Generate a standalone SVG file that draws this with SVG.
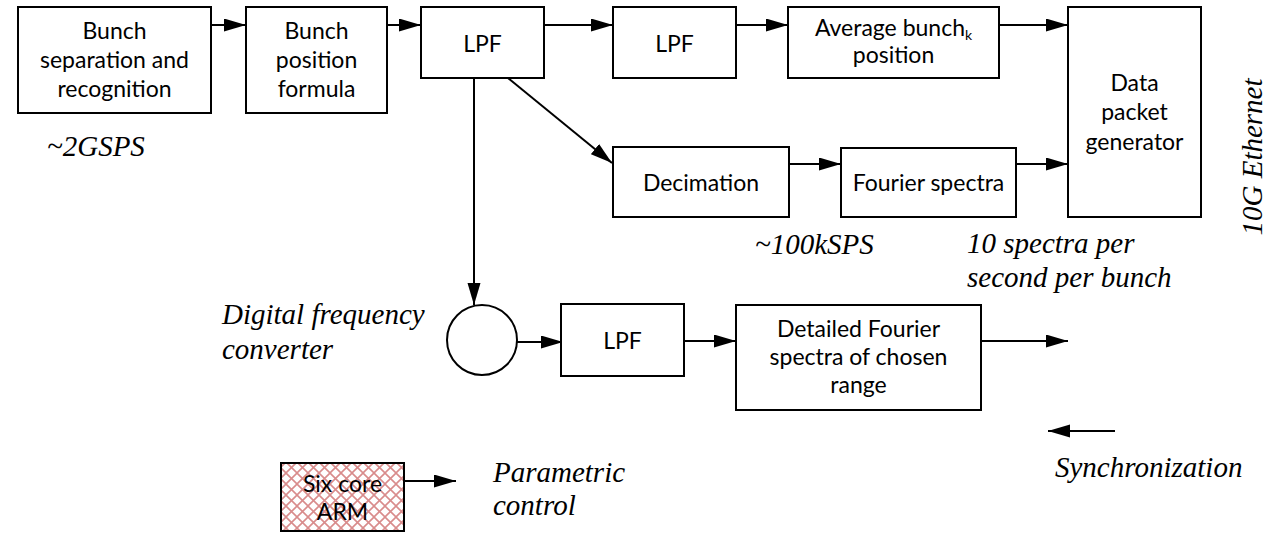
<svg xmlns="http://www.w3.org/2000/svg" width="1278" height="533" viewBox="0 0 1278 533">
<style>
.box{fill:#fff;stroke:#000;stroke-width:2}
.lbl{font-family:Lato,"Open Sans",sans-serif;font-size:23px;fill:#000;text-anchor:middle}
.it{font-style:italic;font-size:29px;fill:#000}
.cn{fill:none;stroke:#000;stroke-width:2}
</style>
<defs>
<marker id="ah" markerUnits="userSpaceOnUse" markerWidth="24" markerHeight="14" refX="22" refY="6.5" orient="auto">
<path d="M0,0 L22,6.5 L0,13 z" fill="#000"/>
</marker>
<pattern id="hatch" patternUnits="userSpaceOnUse" width="11" height="11">
<rect width="11" height="11" fill="#fff"/>
<path d="M0,0 L11,11 M11,0 L0,11" stroke="#d98c8c" stroke-width="1.6"/>
</pattern>
</defs>
<rect width="1278" height="533" fill="#fff"/>
<g id="connectors">
<line class="cn" x1="211" y1="25" x2="246" y2="25" marker-end="url(#ah)"/>
<line class="cn" x1="387" y1="25" x2="421" y2="25" marker-end="url(#ah)"/>
<line class="cn" x1="544" y1="25" x2="613" y2="25" marker-end="url(#ah)"/>
<line class="cn" x1="736" y1="25" x2="788" y2="25" marker-end="url(#ah)"/>
<line class="cn" x1="999" y1="25" x2="1068" y2="25" marker-end="url(#ah)"/>
<line class="cn" x1="508" y1="78" x2="612" y2="163" marker-end="url(#ah)"/>
<line class="cn" x1="789" y1="164" x2="841" y2="164" marker-end="url(#ah)"/>
<line class="cn" x1="1016" y1="164" x2="1068" y2="164" marker-end="url(#ah)"/>
<line class="cn" x1="474" y1="78" x2="474" y2="305" marker-end="url(#ah)"/>
<line class="cn" x1="517" y1="342" x2="563" y2="342" marker-end="url(#ah)"/>
<line class="cn" x1="684" y1="341" x2="736" y2="341" marker-end="url(#ah)"/>
<line class="cn" x1="981" y1="341" x2="1068" y2="341" marker-end="url(#ah)"/>
<line class="cn" x1="404" y1="481" x2="456" y2="481" marker-end="url(#ah)"/>
<line class="cn" x1="1115" y1="431" x2="1048" y2="431" marker-end="url(#ah)"/>
</g>
<g id="n_sep"><rect class="box" x="18" y="7" width="193" height="106"/>
<text class="lbl" x="114.5" y="39">Bunch</text><text class="lbl" x="114.5" y="68">separation and</text><text class="lbl" x="114.5" y="97">recognition</text></g>
<g id="n_pos"><rect class="box" x="246" y="7" width="141" height="106"/>
<text class="lbl" x="316.5" y="39">Bunch</text><text class="lbl" x="316.5" y="68">position</text><text class="lbl" x="316.5" y="97">formula</text></g>
<g id="n_lpf1"><rect class="box" x="421" y="7" width="123" height="71"/><text class="lbl" x="482.5" y="52">LPF</text></g>
<g id="n_lpf2"><rect class="box" x="613" y="7" width="123" height="71"/><text class="lbl" x="674.5" y="52">LPF</text></g>
<g id="n_avg"><rect class="box" x="788" y="7" width="211" height="71"/>
<text class="lbl" x="893.5" y="36">Average bunch<tspan font-size="14" dy="4">k</tspan></text><text class="lbl" x="893.5" y="63">position</text></g>
<g id="n_data"><rect class="box" x="1068" y="7" width="133" height="210"/>
<text class="lbl" x="1134.5" y="91">Data</text><text class="lbl" x="1134.5" y="120">packet</text><text class="lbl" x="1134.5" y="150">generator</text></g>
<g id="n_dec"><rect class="box" x="613" y="147" width="176" height="70"/><text class="lbl" x="701" y="191">Decimation</text></g>
<g id="n_four"><rect class="box" x="841" y="148" width="175" height="69"/><text class="lbl" x="928.5" y="191">Fourier spectra</text></g>
<g id="n_dfc"><circle class="box" cx="482" cy="340" r="35"/></g>
<g id="n_lpf3"><rect class="box" x="561" y="304" width="123" height="72"/><text class="lbl" x="622.5" y="349">LPF</text></g>
<g id="n_det"><rect class="box" x="736" y="305" width="245" height="105"/>
<text class="lbl" x="858.5" y="337">Detailed Fourier</text><text class="lbl" x="858.5" y="365">spectra of chosen</text><text class="lbl" x="858.5" y="393">range</text></g>
<g id="n_arm"><rect x="281" y="463" width="123" height="68" fill="url(#hatch)" stroke="#000" stroke-width="2"/>
<text class="lbl" x="342.5" y="492">Six core</text><text class="lbl" x="342.5" y="520">ARM</text></g>
<g id="labels" font-family="Liberation Serif, Times New Roman, serif">
<text class="it" x="47" y="156">~2GSPS</text>
<text class="it" x="755" y="254">~100kSPS</text>
<text class="it" x="967" y="253">10 spectra per</text>
<text class="it" x="967" y="287">second per bunch</text>
<text class="it" x="222" y="324">Digital frequency</text>
<text class="it" x="222" y="359">converter</text>
<text class="it" x="493" y="482">Parametric</text>
<text class="it" x="493" y="515">control</text>
<text class="it" x="1055" y="477">Synchronization</text>
<text class="it" transform="translate(1262,157) rotate(-90)" text-anchor="middle">10G Ethernet</text>
</g>
</svg>
